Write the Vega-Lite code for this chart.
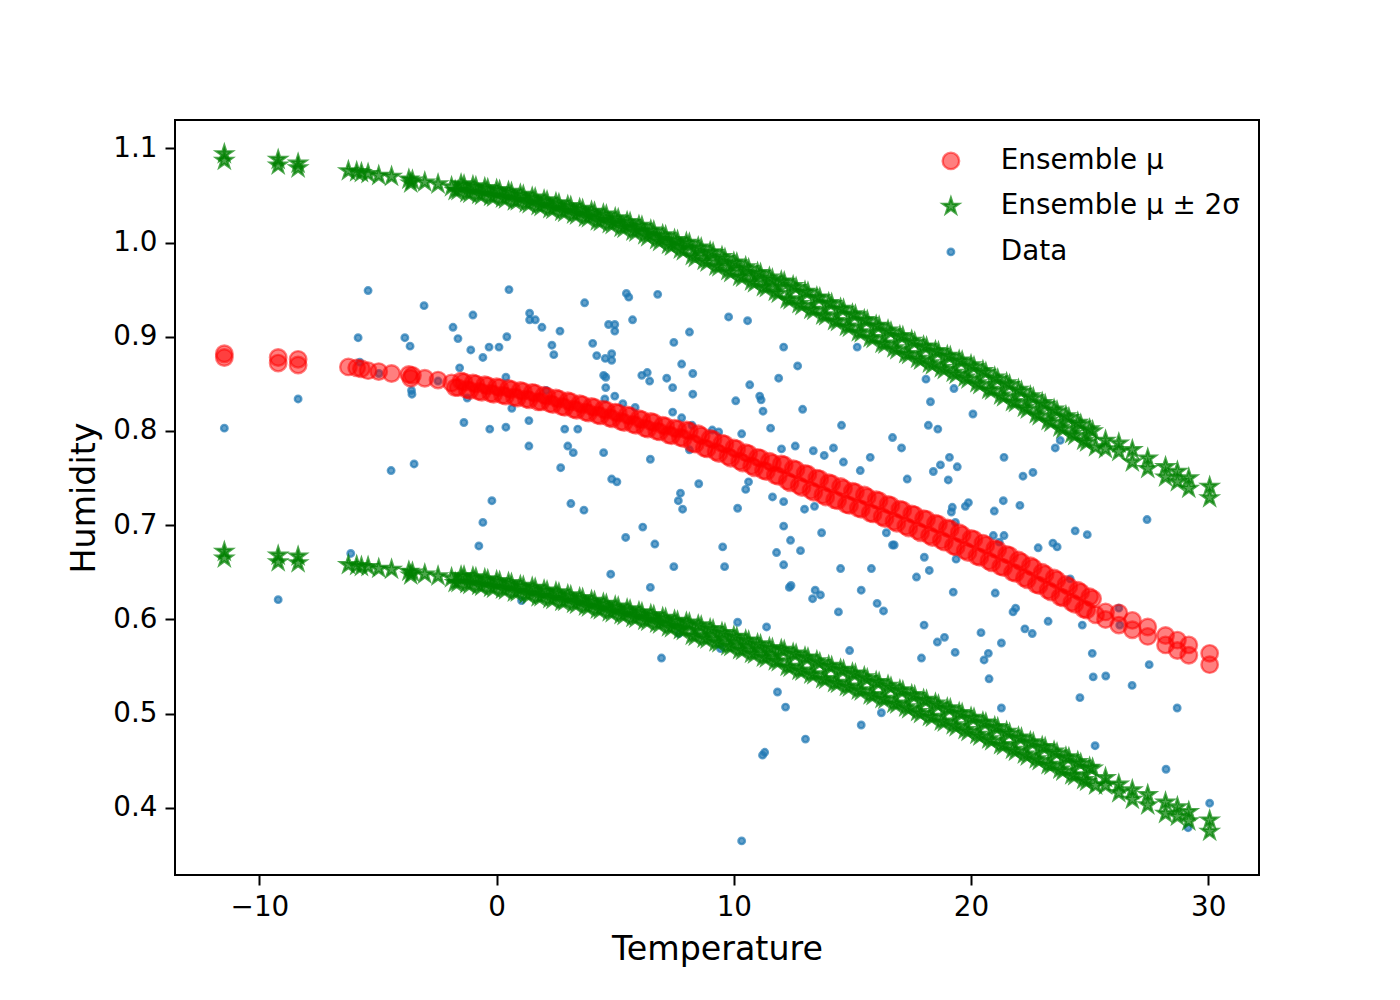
{
  "$schema": "https://vega.github.io/schema/vega-lite/v6.json",
  "width": 1084,
  "height": 755,
  "autosize": {"type": "none"},
  "padding": {"left": 175, "top": 120, "right": 141, "bottom": 125},
  "background": "white",
  "config": {
    "view": {"stroke": "black", "strokeWidth": 2},
    "axis": {
      "domain": false, "grid": false,
      "tickColor": "black", "tickSize": 10, "tickWidth": 2,
      "labelFont": "DejaVu Sans", "labelFontSize": 27.8, "labelColor": "black",
      "titleFont": "DejaVu Sans", "titleFontSize": 33.3, "titleFontWeight": "normal", "titleColor": "black"
    }
  },
  "data": {"values": [
      {"t":-11.48,"h":0.803},{"t":-9.21,"h":0.621},{"t":-8.37,"h":0.834},{"t":-6.15,"h":0.670},{"t":-5.84,"h":0.899},{"t":-5.42,"h":0.949},{"t":-5.77,"h":0.873},{"t":-4.96,"h":0.861},{"t":-4.45,"h":0.758},{"t":-3.87,"h":0.899},{"t":-3.65,"h":0.890},{"t":-3.59,"h":0.843},{"t":-3.57,"h":0.839},{"t":-3.48,"h":0.765},{"t":-3.06,"h":0.933},{"t":-2.47,"h":0.853},{"t":-1.84,"h":0.910},{"t":-1.63,"h":0.898},{"t":-1.56,"h":0.867},{"t":-1.38,"h":0.809},{"t":-1.24,"h":0.835},{"t":-1.09,"h":0.886},{"t":-1.0,"h":0.923},{"t":-0.75,"h":0.678},{"t":-0.58,"h":0.878},{"t":-0.58,"h":0.703},{"t":-0.32,"h":0.889},{"t":-0.29,"h":0.802},{"t":-0.2,"h":0.726},{"t":0.1,"h":0.889},{"t":0.39,"h":0.804},{"t":0.39,"h":0.857},{"t":0.43,"h":0.900},{"t":0.52,"h":0.950},{"t":0.64,"h":0.824},{"t":1.05,"h":0.620},{"t":1.36,"h":0.811},{"t":1.36,"h":0.784},{"t":1.39,"h":0.925},{"t":1.39,"h":0.918},{"t":1.63,"h":0.918},{"t":1.91,"h":0.910},{"t":2.09,"h":0.843},{"t":2.33,"h":0.891},{"t":2.41,"h":0.881},{"t":2.67,"h":0.906},{"t":2.70,"h":0.761},{"t":2.87,"h":0.802},{"t":3.0,"h":0.784},{"t":3.23,"h":0.777},{"t":3.13,"h":0.723},{"t":3.42,"h":0.802},{"t":3.68,"h":0.716},{"t":3.71,"h":0.936},{"t":4.05,"h":0.893},{"t":4.22,"h":0.880},{"t":4.51,"h":0.859},{"t":4.6,"h":0.857},{"t":4.58,"h":0.877},{"t":4.51,"h":0.777},{"t":4.6,"h":0.846},{"t":4.56,"h":0.834},{"t":4.72,"h":0.913},{"t":4.81,"h":0.648},{"t":4.85,"h":0.882},{"t":4.85,"h":0.875},{"t":4.85,"h":0.749},{"t":4.98,"h":0.913},{"t":4.98,"h":0.906},{"t":4.98,"h":0.837},{"t":5.07,"h":0.746},{"t":5.32,"h":0.829},{"t":5.44,"h":0.687},{"t":5.47,"h":0.946},{"t":5.57,"h":0.942},{"t":5.73,"h":0.918},{"t":5.84,"h":0.825},{"t":6.12,"h":0.859},{"t":6.16,"h":0.698},{"t":6.35,"h":0.862},{"t":6.45,"h":0.853},{"t":6.48,"h":0.770},{"t":6.48,"h":0.634},{"t":6.67,"h":0.680},{"t":6.79,"h":0.945},{"t":6.95,"h":0.559},{"t":7.17,"h":0.856},{"t":7.42,"h":0.846},{"t":7.42,"h":0.820},{"t":7.47,"h":0.894},{"t":7.47,"h":0.656},{"t":7.66,"h":0.726},{"t":7.75,"h":0.734},{"t":7.84,"h":0.717},{"t":7.68,"h":0.585},{"t":7.8,"h":0.814},{"t":7.8,"h":0.871},{"t":8.13,"h":0.905},{"t":8.27,"h":0.861},{"t":8.27,"h":0.839},{"t":8.24,"h":0.806},{"t":8.13,"h":0.780},{"t":8.52,"h":0.744},{"t":9.09,"h":0.801},{"t":9.36,"h":0.799},{"t":9.44,"h":0.569},{"t":9.53,"h":0.677},{"t":9.61,"h":0.656},{"t":9.78,"h":0.921},{"t":10.58,"h":0.917},{"t":10.08,"h":0.832},{"t":10.16,"h":0.718},{"t":10.16,"h":0.597},{"t":10.33,"h":0.797},{"t":10.33,"h":0.365},{"t":10.5,"h":0.738},{"t":10.62,"h":0.746},{"t":10.67,"h":0.849},{"t":11.09,"h":0.837},{"t":11.15,"h":0.833},{"t":11.23,"h":0.821},{"t":11.21,"h":0.456},{"t":11.3,"h":0.459},{"t":11.38,"h":0.592},{"t":11.55,"h":0.803},{"t":11.63,"h":0.730},{"t":11.8,"h":0.671},{"t":11.84,"h":0.523},{"t":11.89,"h":0.856},{"t":12.01,"h":0.781},{"t":12.1,"h":0.889},{"t":12.1,"h":0.725},{"t":12.1,"h":0.699},{"t":12.1,"h":0.658},{"t":12.18,"h":0.507},{"t":12.34,"h":0.634},{"t":12.41,"h":0.636},{"t":12.39,"h":0.684},{"t":12.59,"h":0.784},{"t":12.69,"h":0.869},{"t":12.81,"h":0.673},{"t":12.9,"h":0.823},{"t":12.98,"h":0.717},{"t":13.02,"h":0.473},{"t":13.32,"h":0.622},{"t":13.35,"h":0.779},{"t":13.4,"h":0.720},{"t":13.43,"h":0.631},{"t":13.65,"h":0.626},{"t":13.7,"h":0.692},{"t":13.81,"h":0.774},{"t":14.2,"h":0.782},{"t":14.41,"h":0.608},{"t":14.5,"h":0.654},{"t":14.54,"h":0.806},{"t":14.62,"h":0.767},{"t":14.88,"h":0.567},{"t":15.2,"h":0.889},{"t":15.33,"h":0.758},{"t":15.37,"h":0.631},{"t":15.37,"h":0.488},{"t":15.75,"h":0.772},{"t":15.8,"h":0.654},{"t":16.04,"h":0.617},{"t":16.22,"h":0.501},{"t":16.31,"h":0.609},{"t":16.43,"h":0.692},{"t":16.69,"h":0.793},{"t":16.69,"h":0.679},{"t":16.76,"h":0.679},{"t":17.07,"h":0.782},{"t":17.31,"h":0.749},{"t":17.7,"h":0.645},{"t":17.91,"h":0.559},{"t":18.02,"h":0.594},{"t":18.03,"h":0.666},{"t":18.1,"h":0.855},{"t":18.2,"h":0.806},{"t":18.24,"h":0.652},{"t":18.29,"h":0.831},{"t":18.41,"h":0.757},{"t":18.58,"h":0.576},{"t":18.6,"h":0.802},{"t":18.71,"h":0.764},{"t":18.88,"h":0.581},{"t":19.04,"h":0.748},{"t":19.09,"h":0.772},{"t":19.21,"h":0.719},{"t":19.17,"h":0.714},{"t":19.25,"h":0.629},{"t":19.28,"h":0.845},{"t":19.33,"h":0.565},{"t":19.34,"h":0.703},{"t":19.37,"h":0.664},{"t":19.42,"h":0.762},{"t":19.76,"h":0.720},{"t":19.89,"h":0.724},{"t":20.08,"h":0.818},{"t":20.42,"h":0.586},{"t":20.55,"h":0.557},{"t":20.73,"h":0.564},{"t":20.76,"h":0.537},{"t":20.94,"h":0.689},{"t":20.98,"h":0.715},{"t":21.02,"h":0.628},{"t":21.19,"h":0.682},{"t":21.28,"h":0.575},{"t":21.28,"h":0.506},{"t":21.36,"h":0.726},{"t":21.39,"h":0.772},{"t":21.39,"h":0.689},{"t":21.77,"h":0.608},{"t":21.88,"h":0.612},{"t":22.06,"h":0.721},{"t":22.19,"h":0.752},{"t":22.27,"h":0.590},{"t":22.58,"h":0.585},{"t":22.61,"h":0.756},{"t":22.83,"h":0.676},{"t":23.25,"h":0.598},{"t":23.45,"h":0.681},{"t":23.63,"h":0.677},{"t":23.55,"h":0.782},{"t":23.76,"h":0.790},{"t":24.18,"h":0.643},{"t":24.39,"h":0.694},{"t":24.59,"h":0.517},{"t":24.69,"h":0.594},{"t":24.9,"h":0.690},{"t":25.11,"h":0.564},{"t":25.15,"h":0.539},{"t":25.23,"h":0.466},{"t":25.68,"h":0.540},{"t":26.23,"h":0.612},{"t":26.27,"h":0.594},{"t":26.79,"h":0.530},{"t":27.42,"h":0.706},{"t":27.51,"h":0.552},{"t":28.22,"h":0.441},{"t":28.69,"h":0.506},{"t":29.15,"h":0.379},{"t":30.06,"h":0.405},
      {"t":-11.48,"mu":0.882,"hi":1.094,"lo":0.672},{"t":-11.48,"mu":0.878,"hi":1.087,"lo":0.665},
      {"t":-9.21,"mu":0.878,"hi":1.088,"lo":0.668},{"t":-9.21,"mu":0.872,"hi":1.082,"lo":0.661},
      {"t":-8.37,"mu":0.876,"hi":1.084,"lo":0.667},{"t":-8.37,"mu":0.870,"hi":1.079,"lo":0.660},
      {"t":-6.25,"mu":0.868,"hi":1.076,"lo":0.658},{"t":-5.9,"mu":0.867,"hi":1.075,"lo":0.657},{"t":-5.7,"mu":0.866,"hi":1.074,"lo":0.656},{"t":-5.42,"mu":0.864,"hi":1.073,"lo":0.656},{"t":-4.97,"mu":0.863,"hi":1.071,"lo":0.654},{"t":-4.43,"mu":0.861,"hi":1.070,"lo":0.653},{"t":-3.7,"mu":0.860,"hi":1.067,"lo":0.651},{"t":-3.62,"mu":0.856,"hi":1.063,"lo":0.647},{"t":-3.55,"mu":0.859,"hi":1.066,"lo":0.650},{"t":-3.03,"mu":0.856,"hi":1.064,"lo":0.648},{"t":-2.47,"mu":0.854,"hi":1.062,"lo":0.646},{"t":-1.9,"mu":0.851,"hi":1.059,"lo":0.644},
      {"t":-1.75,"mu":0.846,"hi":1.055,"lo":0.639},{"t":-1.625,"mu":0.846,"hi":1.055,"lo":0.639},{"t":-1.5,"mu":0.853,"hi":1.062,"lo":0.646},{"t":-1.375,"mu":0.852,"hi":1.061,"lo":0.646},{"t":-1.25,"mu":0.844,"hi":1.053,"lo":0.638},{"t":-1.125,"mu":0.843,"hi":1.052,"lo":0.637},
      {"t":-1,"mu":0.851,"hi":1.060,"lo":0.645},{"t":-0.875,"mu":0.850,"hi":1.059,"lo":0.644},{"t":-0.75,"mu":0.842,"hi":1.051,"lo":0.636},{"t":-0.625,"mu":0.841,"hi":1.050,"lo":0.635},{"t":-0.5,"mu":0.849,"hi":1.058,"lo":0.643},{"t":-0.375,"mu":0.848,"hi":1.057,"lo":0.642},{"t":-0.25,"mu":0.840,"hi":1.049,"lo":0.634},{"t":-0.125,"mu":0.839,"hi":1.048,"lo":0.633},
      {"t":0,"mu":0.847,"hi":1.056,"lo":0.641},{"t":0.125,"mu":0.846,"hi":1.055,"lo":0.640},{"t":0.25,"mu":0.838,"hi":1.047,"lo":0.632},{"t":0.375,"mu":0.837,"hi":1.046,"lo":0.631},{"t":0.5,"mu":0.845,"hi":1.054,"lo":0.639},{"t":0.625,"mu":0.844,"hi":1.053,"lo":0.638},{"t":0.75,"mu":0.836,"hi":1.044,"lo":0.629},{"t":0.875,"mu":0.835,"hi":1.044,"lo":0.629},
      {"t":1,"mu":0.843,"hi":1.051,"lo":0.636},{"t":1.125,"mu":0.842,"hi":1.050,"lo":0.635},{"t":1.25,"mu":0.834,"hi":1.042,"lo":0.627},{"t":1.375,"mu":0.833,"hi":1.041,"lo":0.626},{"t":1.5,"mu":0.841,"hi":1.048,"lo":0.634},{"t":1.625,"mu":0.840,"hi":1.047,"lo":0.633},{"t":1.75,"mu":0.831,"hi":1.039,"lo":0.624},{"t":1.875,"mu":0.831,"hi":1.038,"lo":0.624},
      {"t":2,"mu":0.838,"hi":1.045,"lo":0.631},{"t":2.125,"mu":0.837,"hi":1.044,"lo":0.630},{"t":2.25,"mu":0.829,"hi":1.036,"lo":0.622},{"t":2.375,"mu":0.828,"hi":1.035,"lo":0.621},{"t":2.5,"mu":0.835,"hi":1.042,"lo":0.629},{"t":2.625,"mu":0.834,"hi":1.041,"lo":0.628},{"t":2.75,"mu":0.826,"hi":1.033,"lo":0.619},{"t":2.875,"mu":0.825,"hi":1.032,"lo":0.619},
      {"t":3,"mu":0.832,"hi":1.039,"lo":0.626},{"t":3.125,"mu":0.831,"hi":1.038,"lo":0.625},{"t":3.25,"mu":0.823,"hi":1.030,"lo":0.617},{"t":3.375,"mu":0.822,"hi":1.029,"lo":0.616},{"t":3.5,"mu":0.829,"hi":1.036,"lo":0.623},{"t":3.625,"mu":0.828,"hi":1.035,"lo":0.622},{"t":3.75,"mu":0.820,"hi":1.027,"lo":0.614},{"t":3.875,"mu":0.819,"hi":1.026,"lo":0.613},
      {"t":4,"mu":0.826,"hi":1.033,"lo":0.620},{"t":4.125,"mu":0.825,"hi":1.032,"lo":0.619},{"t":4.25,"mu":0.817,"hi":1.023,"lo":0.611},{"t":4.375,"mu":0.816,"hi":1.022,"lo":0.610},{"t":4.5,"mu":0.823,"hi":1.030,"lo":0.617},{"t":4.625,"mu":0.822,"hi":1.029,"lo":0.616},{"t":4.75,"mu":0.814,"hi":1.020,"lo":0.608},{"t":4.875,"mu":0.813,"hi":1.019,"lo":0.607},
      {"t":5,"mu":0.820,"hi":1.026,"lo":0.614},{"t":5.125,"mu":0.819,"hi":1.025,"lo":0.613},{"t":5.25,"mu":0.810,"hi":1.016,"lo":0.605},{"t":5.375,"mu":0.809,"hi":1.015,"lo":0.604},{"t":5.5,"mu":0.817,"hi":1.022,"lo":0.611},{"t":5.625,"mu":0.816,"hi":1.021,"lo":0.610},{"t":5.75,"mu":0.807,"hi":1.012,"lo":0.602},{"t":5.875,"mu":0.806,"hi":1.011,"lo":0.601},
      {"t":6,"mu":0.813,"hi":1.018,"lo":0.608},{"t":6.125,"mu":0.812,"hi":1.017,"lo":0.607},{"t":6.25,"mu":0.803,"hi":1.008,"lo":0.599},{"t":6.375,"mu":0.802,"hi":1.006,"lo":0.598},{"t":6.5,"mu":0.810,"hi":1.013,"lo":0.605},{"t":6.625,"mu":0.809,"hi":1.012,"lo":0.604},{"t":6.75,"mu":0.800,"hi":1.003,"lo":0.596},{"t":6.875,"mu":0.799,"hi":1.001,"lo":0.595},
      {"t":7,"mu":0.806,"hi":1.008,"lo":0.602},{"t":7.125,"mu":0.805,"hi":1.007,"lo":0.601},{"t":7.25,"mu":0.796,"hi":0.998,"lo":0.592},{"t":7.375,"mu":0.795,"hi":0.996,"lo":0.591},{"t":7.5,"mu":0.803,"hi":1.003,"lo":0.599},{"t":7.625,"mu":0.802,"hi":1.002,"lo":0.598},{"t":7.75,"mu":0.793,"hi":0.993,"lo":0.589},{"t":7.875,"mu":0.792,"hi":0.991,"lo":0.588},
      {"t":8,"mu":0.801,"hi":1.000,"lo":0.597},{"t":8.125,"mu":0.800,"hi":0.999,"lo":0.596},{"t":8.25,"mu":0.787,"hi":0.986,"lo":0.583},{"t":8.375,"mu":0.786,"hi":0.984,"lo":0.582},{"t":8.5,"mu":0.797,"hi":0.995,"lo":0.594},{"t":8.625,"mu":0.795,"hi":0.994,"lo":0.593},{"t":8.75,"mu":0.782,"hi":0.981,"lo":0.580},{"t":8.875,"mu":0.781,"hi":0.979,"lo":0.579},
      {"t":9,"mu":0.792,"hi":0.990,"lo":0.590},{"t":9.125,"mu":0.791,"hi":0.989,"lo":0.589},{"t":9.25,"mu":0.778,"hi":0.975,"lo":0.576},{"t":9.375,"mu":0.776,"hi":0.974,"lo":0.575},{"t":9.5,"mu":0.787,"hi":0.985,"lo":0.586},{"t":9.625,"mu":0.786,"hi":0.983,"lo":0.585},{"t":9.75,"mu":0.773,"hi":0.970,"lo":0.572},{"t":9.875,"mu":0.771,"hi":0.968,"lo":0.571},
      {"t":10,"mu":0.782,"hi":0.979,"lo":0.582},{"t":10.125,"mu":0.781,"hi":0.978,"lo":0.581},{"t":10.25,"mu":0.768,"hi":0.964,"lo":0.568},{"t":10.375,"mu":0.766,"hi":0.963,"lo":0.567},{"t":10.5,"mu":0.777,"hi":0.974,"lo":0.578},{"t":10.625,"mu":0.776,"hi":0.972,"lo":0.577},{"t":10.75,"mu":0.763,"hi":0.959,"lo":0.564},{"t":10.875,"mu":0.761,"hi":0.957,"lo":0.563},
      {"t":11,"mu":0.772,"hi":0.968,"lo":0.574},{"t":11.125,"mu":0.771,"hi":0.967,"lo":0.573},{"t":11.25,"mu":0.758,"hi":0.953,"lo":0.560},{"t":11.375,"mu":0.757,"hi":0.952,"lo":0.559},{"t":11.5,"mu":0.768,"hi":0.963,"lo":0.570},{"t":11.625,"mu":0.766,"hi":0.961,"lo":0.569},{"t":11.75,"mu":0.753,"hi":0.948,"lo":0.556},{"t":11.875,"mu":0.752,"hi":0.946,"lo":0.555},
      {"t":12,"mu":0.765,"hi":0.959,"lo":0.568},{"t":12.125,"mu":0.764,"hi":0.958,"lo":0.567},{"t":12.25,"mu":0.747,"hi":0.940,"lo":0.550},{"t":12.375,"mu":0.745,"hi":0.939,"lo":0.549},{"t":12.5,"mu":0.760,"hi":0.954,"lo":0.564},{"t":12.625,"mu":0.759,"hi":0.952,"lo":0.563},{"t":12.75,"mu":0.742,"hi":0.935,"lo":0.546},{"t":12.875,"mu":0.740,"hi":0.933,"lo":0.545},
      {"t":13,"mu":0.755,"hi":0.948,"lo":0.560},{"t":13.125,"mu":0.754,"hi":0.947,"lo":0.559},{"t":13.25,"mu":0.737,"hi":0.929,"lo":0.542},{"t":13.375,"mu":0.735,"hi":0.928,"lo":0.541},{"t":13.5,"mu":0.750,"hi":0.942,"lo":0.556},{"t":13.625,"mu":0.749,"hi":0.941,"lo":0.554},{"t":13.75,"mu":0.732,"hi":0.923,"lo":0.537},{"t":13.875,"mu":0.730,"hi":0.922,"lo":0.536},
      {"t":14,"mu":0.745,"hi":0.936,"lo":0.551},{"t":14.125,"mu":0.744,"hi":0.935,"lo":0.550},{"t":14.25,"mu":0.727,"hi":0.917,"lo":0.533},{"t":14.375,"mu":0.726,"hi":0.916,"lo":0.532},{"t":14.5,"mu":0.741,"hi":0.930,"lo":0.547},{"t":14.625,"mu":0.739,"hi":0.929,"lo":0.546},{"t":14.75,"mu":0.722,"hi":0.911,"lo":0.529},{"t":14.875,"mu":0.721,"hi":0.910,"lo":0.528},
      {"t":15,"mu":0.736,"hi":0.924,"lo":0.543},{"t":15.125,"mu":0.735,"hi":0.923,"lo":0.542},{"t":15.25,"mu":0.718,"hi":0.905,"lo":0.525},{"t":15.375,"mu":0.717,"hi":0.904,"lo":0.524},{"t":15.5,"mu":0.732,"hi":0.918,"lo":0.539},{"t":15.625,"mu":0.730,"hi":0.917,"lo":0.537},{"t":15.75,"mu":0.713,"hi":0.899,"lo":0.520},{"t":15.875,"mu":0.712,"hi":0.898,"lo":0.519},
      {"t":16,"mu":0.727,"hi":0.912,"lo":0.534},{"t":16.125,"mu":0.726,"hi":0.911,"lo":0.533},{"t":16.25,"mu":0.709,"hi":0.893,"lo":0.516},{"t":16.375,"mu":0.707,"hi":0.892,"lo":0.515},{"t":16.5,"mu":0.722,"hi":0.907,"lo":0.530},{"t":16.625,"mu":0.721,"hi":0.905,"lo":0.528},{"t":16.75,"mu":0.704,"hi":0.888,"lo":0.511},{"t":16.875,"mu":0.702,"hi":0.886,"lo":0.510},
      {"t":17,"mu":0.717,"hi":0.901,"lo":0.525},{"t":17.125,"mu":0.716,"hi":0.900,"lo":0.524},{"t":17.25,"mu":0.699,"hi":0.882,"lo":0.507},{"t":17.375,"mu":0.697,"hi":0.881,"lo":0.505},{"t":17.5,"mu":0.712,"hi":0.896,"lo":0.520},{"t":17.625,"mu":0.711,"hi":0.894,"lo":0.519},{"t":17.75,"mu":0.694,"hi":0.877,"lo":0.502},{"t":17.875,"mu":0.692,"hi":0.875,"lo":0.500},
      {"t":18,"mu":0.707,"hi":0.890,"lo":0.515},{"t":18.125,"mu":0.706,"hi":0.889,"lo":0.514},{"t":18.25,"mu":0.689,"hi":0.872,"lo":0.497},{"t":18.375,"mu":0.687,"hi":0.870,"lo":0.496},{"t":18.5,"mu":0.702,"hi":0.885,"lo":0.511},{"t":18.625,"mu":0.701,"hi":0.884,"lo":0.509},{"t":18.75,"mu":0.684,"hi":0.867,"lo":0.492},{"t":18.875,"mu":0.682,"hi":0.865,"lo":0.491},
      {"t":19,"mu":0.697,"hi":0.880,"lo":0.506},{"t":19.125,"mu":0.696,"hi":0.879,"lo":0.505},{"t":19.25,"mu":0.678,"hi":0.862,"lo":0.488},{"t":19.375,"mu":0.677,"hi":0.860,"lo":0.486},{"t":19.5,"mu":0.692,"hi":0.875,"lo":0.501},{"t":19.625,"mu":0.690,"hi":0.874,"lo":0.500},{"t":19.75,"mu":0.673,"hi":0.857,"lo":0.483},{"t":19.875,"mu":0.671,"hi":0.855,"lo":0.481},
      {"t":20,"mu":0.686,"hi":0.870,"lo":0.496},{"t":20.125,"mu":0.685,"hi":0.868,"lo":0.495},{"t":20.25,"mu":0.667,"hi":0.851,"lo":0.478},{"t":20.375,"mu":0.666,"hi":0.849,"lo":0.476},{"t":20.5,"mu":0.681,"hi":0.864,"lo":0.491},{"t":20.625,"mu":0.679,"hi":0.862,"lo":0.490},{"t":20.75,"mu":0.662,"hi":0.844,"lo":0.473},{"t":20.875,"mu":0.660,"hi":0.843,"lo":0.471},
      {"t":21,"mu":0.675,"hi":0.857,"lo":0.486},{"t":21.125,"mu":0.674,"hi":0.855,"lo":0.485},{"t":21.25,"mu":0.656,"hi":0.838,"lo":0.467},{"t":21.375,"mu":0.655,"hi":0.836,"lo":0.466},{"t":21.5,"mu":0.669,"hi":0.851,"lo":0.481},{"t":21.625,"mu":0.668,"hi":0.849,"lo":0.479},{"t":21.75,"mu":0.650,"hi":0.831,"lo":0.462},{"t":21.875,"mu":0.649,"hi":0.830,"lo":0.460},
      {"t":22,"mu":0.663,"hi":0.844,"lo":0.475},{"t":22.125,"mu":0.661,"hi":0.842,"lo":0.474},{"t":22.25,"mu":0.644,"hi":0.825,"lo":0.457},{"t":22.375,"mu":0.642,"hi":0.823,"lo":0.455},{"t":22.5,"mu":0.657,"hi":0.837,"lo":0.470},{"t":22.625,"mu":0.655,"hi":0.835,"lo":0.469},{"t":22.75,"mu":0.637,"hi":0.818,"lo":0.452},{"t":22.875,"mu":0.636,"hi":0.816,"lo":0.450},
      {"t":23,"mu":0.650,"hi":0.830,"lo":0.465},{"t":23.125,"mu":0.648,"hi":0.828,"lo":0.464},{"t":23.25,"mu":0.631,"hi":0.811,"lo":0.446},{"t":23.375,"mu":0.629,"hi":0.809,"lo":0.445},{"t":23.5,"mu":0.644,"hi":0.823,"lo":0.460},{"t":23.625,"mu":0.642,"hi":0.821,"lo":0.458},{"t":23.75,"mu":0.624,"hi":0.804,"lo":0.441},{"t":23.875,"mu":0.623,"hi":0.802,"lo":0.439},
      {"t":24,"mu":0.637,"hi":0.816,"lo":0.454},{"t":24.125,"mu":0.635,"hi":0.814,"lo":0.453},{"t":24.25,"mu":0.618,"hi":0.797,"lo":0.435},{"t":24.375,"mu":0.616,"hi":0.795,"lo":0.434},{"t":24.5,"mu":0.631,"hi":0.809,"lo":0.449},{"t":24.625,"mu":0.629,"hi":0.807,"lo":0.447},{"t":24.75,"mu":0.611,"hi":0.790,"lo":0.430},{"t":24.875,"mu":0.610,"hi":0.788,"lo":0.428},
      {"t":25,"mu":0.624,"hi":0.802,"lo":0.443},{"t":25.125,"mu":0.622,"hi":0.800,"lo":0.442},{"t":25.25,"mu":0.605,"hi":0.783,"lo":0.424},
      {"t":25.67,"mu":0.608,"hi":0.790,"lo":0.432},{"t":25.67,"mu":0.600,"hi":0.781,"lo":0.424},
      {"t":26.23,"mu":0.607,"hi":0.787,"lo":0.425},{"t":26.23,"mu":0.594,"hi":0.778,"lo":0.416},
      {"t":26.8,"mu":0.599,"hi":0.780,"lo":0.419},{"t":26.8,"mu":0.589,"hi":0.767,"lo":0.409},
      {"t":27.45,"mu":0.592,"hi":0.771,"lo":0.414},{"t":27.45,"mu":0.582,"hi":0.760,"lo":0.403},
      {"t":28.2,"mu":0.583,"hi":0.762,"lo":0.406},{"t":28.2,"mu":0.573,"hi":0.751,"lo":0.394},
      {"t":28.7,"mu":0.578,"hi":0.757,"lo":0.401},{"t":28.7,"mu":0.567,"hi":0.746,"lo":0.391},
      {"t":29.18,"mu":0.573,"hi":0.750,"lo":0.396},{"t":29.18,"mu":0.562,"hi":0.739,"lo":0.386},
      {"t":30.06,"mu":0.564,"hi":0.741,"lo":0.387},{"t":30.06,"mu":0.552,"hi":0.729,"lo":0.375}
  ]},
  "transform": [
    {"fold": ["h", "mu", "hi", "lo"], "as": ["k", "v"]},
    {"filter": {"field": "v", "valid": true}},
    {"lookup": "k", "from": {"data": {"values": [
      {"k": "mu", "s": "Ensemble μ"},
      {"k": "hi", "s": "Ensemble μ ± 2σ"},
      {"k": "lo", "s": "Ensemble μ ± 2σ"},
      {"k": "h", "s": "Data"}
    ]}, "key": "k", "fields": ["s"]}}
  ],
  "mark": {"type": "point", "filled": true, "size": 100, "strokeWidth": 2.4, "strokeJoin": "miter", "opacity": 1},
  "encoding": {
    "x": {
      "field": "t", "type": "quantitative",
      "scale": {"domain": [-13.56, 32.14], "nice": false, "zero": false},
      "axis": {"title": "Temperature", "values": [-10, 0, 10, 20, 30], "format": "d", "labelPadding": 8, "titlePadding": 13}
    },
    "y": {
      "field": "v", "type": "quantitative",
      "scale": {"domain": [0.3288, 1.13], "nice": false, "zero": false},
      "axis": {"title": "Humidity", "values": [0.4, 0.5, 0.6, 0.7, 0.8, 0.9, 1.0, 1.1], "format": ".1f", "labelPadding": 8, "titlePadding": 11}
    },
    "color": {
      "field": "s", "type": "nominal",
      "scale": {"domain": ["Ensemble μ", "Ensemble μ ± 2σ", "Data"], "range": ["rgba(255,0,0,0.5)", "rgba(0,128,0,0.7)", "rgba(31,119,180,0.7)"]},
      "legend": {"title": null, "orient": "none", "legendX": 762, "legendY": 27, "labelFont": "DejaVu Sans", "labelFontSize": 27.8, "labelColor": "black", "labelLimit": 500, "labelOffset": 36, "rowPadding": 16.5, "padding": 0, "symbolSize": 100, "symbolStrokeWidth": 2.4, "symbolOpacity": 1}
    },
    "stroke": {
      "field": "s", "type": "nominal",
      "scale": {"domain": ["Ensemble μ", "Ensemble μ ± 2σ", "Data"], "range": ["rgba(255,0,0,0.5)", "rgba(0,128,0,0.7)", "rgba(31,119,180,0.7)"]},
      "legend": {"title": null, "orient": "none", "legendX": 762, "legendY": 27, "labelFont": "DejaVu Sans", "labelFontSize": 27.8, "labelColor": "black", "labelLimit": 500, "labelOffset": 36, "rowPadding": 16.5, "padding": 0, "symbolSize": 100, "symbolStrokeWidth": 2.4, "symbolOpacity": 1}
    },
    "shape": {
      "field": "s", "type": "nominal",
      "scale": {"domain": ["Ensemble μ", "Ensemble μ ± 2σ", "Data"], "range": [
        "M-1.65,0A1.65,1.65,0,1,0,1.65,0A1.65,1.65,0,1,0,-1.65,0Z",
        "M0,-1.65L0.370,-0.510L1.569,-0.510L0.599,0.195L0.970,1.335L0,0.630L-0.970,1.335L-0.599,0.195L-1.569,-0.510L-0.370,-0.510Z",
        "M-0.65,0A0.65,0.65,0,1,0,0.65,0A0.65,0.65,0,1,0,-0.65,0Z"
      ]},
      "legend": {"title": null, "orient": "none", "legendX": 762, "legendY": 27, "labelFont": "DejaVu Sans", "labelFontSize": 27.8, "labelColor": "black", "labelLimit": 500, "labelOffset": 36, "rowPadding": 16.5, "padding": 0, "symbolSize": 100, "symbolStrokeWidth": 2.4, "symbolOpacity": 1}
    }
  }
}
